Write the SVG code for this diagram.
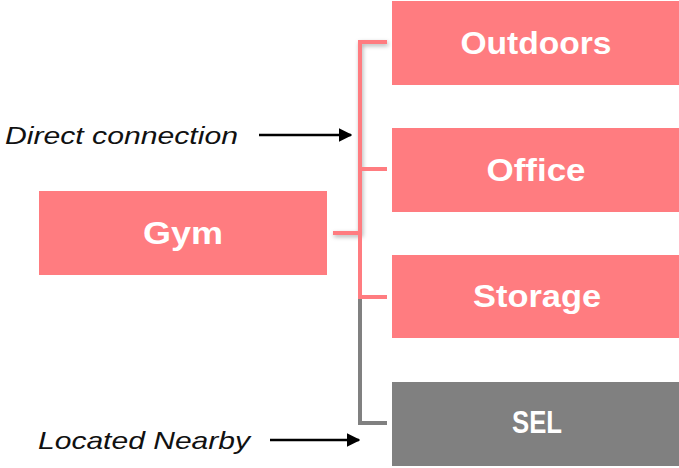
<svg xmlns="http://www.w3.org/2000/svg" width="679" height="468" viewBox="0 0 679 468">
<style>
.box{fill:#FF7C80}
.gbox{fill:#808080}
.lbl{font-family:"Liberation Sans",Arial,sans-serif;font-weight:bold;font-size:32px;fill:#fff;text-anchor:middle;dominant-baseline:central}
.note{font-family:"Liberation Sans",Arial,sans-serif;font-style:italic;font-size:24px;fill:#111}
.pk{stroke:#FF7C80;stroke-width:4;fill:none}
.gy{stroke:#808080;stroke-width:4;fill:none}
.ar{stroke:#000;stroke-width:2.5;fill:none}
</style>
<defs>
<marker id="ah" viewBox="0 0 10 10" refX="9" refY="5" markerWidth="5.5" markerHeight="5.5" orient="auto" markerUnits="strokeWidth">
<path d="M0,0 L10,5 L0,10 z" fill="#000"/>
</marker>
<filter id="sh" x="-20%" y="-5%" width="140%" height="110%">
<feDropShadow dx="1" dy="2" stdDeviation="2" flood-color="#000" flood-opacity="0.3"/>
</filter>
</defs>
<g id="connectors">
<path class="gy" d="M360,297 V423 H387"/>
<g filter="url(#sh)">
<path class="pk" d="M387,42 H360 V233 H333"/>
</g>
<path class="pk" d="M360,233 V297 H387"/>
<path class="pk" d="M360,169 H387"/>
<line class="ar" x1="259" y1="135" x2="351" y2="135" marker-end="url(#ah)"/>
<line class="ar" x1="270" y1="440" x2="359" y2="440" marker-end="url(#ah)"/>
</g>
<g id="gym"><rect class="box" x="39" y="191" width="288" height="84"/><text class="lbl" x="183" y="233" textLength="80" lengthAdjust="spacingAndGlyphs">Gym</text></g>
<g id="outdoors"><rect class="box" x="392" y="1" width="287" height="84"/><text class="lbl" x="536" y="43" textLength="151" lengthAdjust="spacingAndGlyphs">Outdoors</text></g>
<g id="office"><rect class="box" x="392" y="128" width="287" height="84"/><text class="lbl" x="536" y="170" textLength="99" lengthAdjust="spacingAndGlyphs">Office</text></g>
<g id="storage"><rect class="box" x="392" y="255" width="287" height="83"/><text class="lbl" x="537" y="296" textLength="128" lengthAdjust="spacingAndGlyphs">Storage</text></g>
<g id="sel"><rect class="gbox" x="392" y="382" width="287" height="84"/><text class="lbl" x="537" y="422" textLength="50" lengthAdjust="spacingAndGlyphs">SEL</text></g>
<g id="notes">
<text class="note" x="5" y="144" textLength="233" lengthAdjust="spacingAndGlyphs">Direct connection</text>
<text class="note" x="38" y="449" textLength="212" lengthAdjust="spacingAndGlyphs">Located Nearby</text>
</g>
</svg>
